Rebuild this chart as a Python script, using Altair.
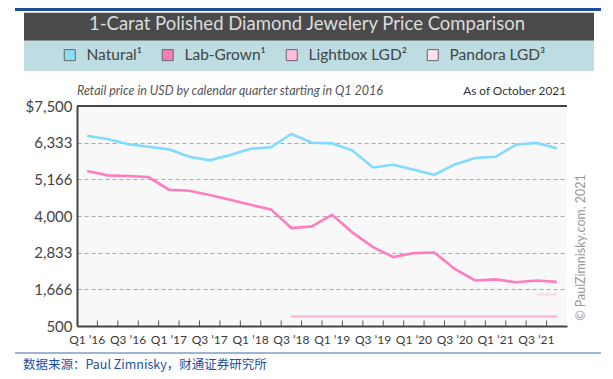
import altair as alt
import pandas as pd

quarters = ["Q1 ’16", "Q2 ’16", "Q3 ’16", "Q4 ’16",
            "Q1 ’17", "Q2 ’17", "Q3 ’17", "Q4 ’17",
            "Q1 ’18", "Q2 ’18", "Q3 ’18", "Q4 ’18",
            "Q1 ’19", "Q2 ’19", "Q3 ’19", "Q4 ’19",
            "Q1 ’20", "Q2 ’20", "Q3 ’20", "Q4 ’20",
            "Q1 ’21", "Q2 ’21", "Q3 ’21", "Q4 ’21"]
label_quarters = ["Q1 ’16", "Q3 ’16", "Q1 ’17", "Q3 ’17", "Q1 ’18", "Q3 ’18",
                  "Q1 ’19", "Q3 ’19", "Q1 ’20", "Q3 ’20", "Q1 ’21", "Q3 ’21"]

natural = [6550, 6450, 6280, 6205, 6120, 5885, 5770, 5940, 6140, 6185, 6610, 6333,
           6310, 6080, 5545, 5630, 5470, 5305, 5640, 5845, 5885, 6265, 6325, 6155]
lab_grown = [5430, 5294, 5272, 5240, 4836, 4805, 4670, 4517, 4357, 4210, 3616, 3670,
             4040, 3470, 3010, 2693, 2820, 2840, 2315, 1950, 1982, 1892, 1948, 1905]
lightbox_quarters = quarters[10:]
lightbox = [800, 800, 800, 800, 800, 800, 800, 800, 800, 800, 800, 800, 800, 800]
pandora_quarters = quarters[22:]
pandora = [1500, 1500]

series_names = ["Natural¹", "Lab-Grown¹", "Lightbox LGD²", "Pandora LGD³"]
series_colors = ["#80DBFF", "#FF7DBF", "#FFB6D9", "#FFDCEA"]
legend_fill = ["#8DDFF5", "#F77DB8", "#FFBEDC", "#FCE2EE"]

y_ticks = [500, 1666, 2833, 4000, 5166, 6333, 7500]

chart_title = "1-Carat Polished Diamond Jewelery Price Comparison"
top_title = "图 40：1 克拉培育钻石与天然钻石价格差异扩大至 75%"
subtitle = "Retail price in USD by calendar quarter starting in Q1 2016"
asof = "As of October 2021"
copyright_text = "© PaulZimnisky.com, 2021"
source = "数据来源：Paul Zimnisky，财通证券研究所"

rows = []
for q, v in zip(quarters, natural):
    rows.append({"quarter": q, "series": series_names[0], "value": v})
for q, v in zip(quarters, lab_grown):
    rows.append({"quarter": q, "series": series_names[1], "value": v})
for q, v in zip(lightbox_quarters, lightbox):
    rows.append({"quarter": q, "series": series_names[2], "value": v})
for q, v in zip(pandora_quarters, pandora):
    rows.append({"quarter": q, "series": series_names[3], "value": v})
df = pd.DataFrame(rows)

W, H = 490, 220
FONT = "Lato"

xscale = alt.Scale(type="band", domain=quarters, paddingInner=0, paddingOuter=0)
yscale = alt.Scale(domain=[500, 7500], nice=False, zero=False)

x_axis = alt.Axis(values=label_quarters, ticks=False, tickSize=0, labelPadding=8,
                  bandPosition=0.5,
                  labelFontSize=12, labelColor="#3a3a3a", labelFont=FONT, labelAngle=0,
                  domainColor="#444", domainWidth=2, grid=False, title=None)
y_axis = alt.Axis(values=y_ticks, ticks=False, tickSize=0, labelPadding=5,
                  labelOverlap=False,
                  labelFontSize=15, labelColor="#444", labelFont=FONT,
                  labelExpr="datum.value == 7500 ? '$7,500' : format(datum.value, ',')",
                  domainColor="#444", domainWidth=2, grid=True, gridColor="#aaaaaa",
                  gridDash=[4, 3], gridWidth=1, title=None)

# stroke scale listed in reverse order so its legend (hidden) is not merged with the fill legend
lines = alt.Chart(df).mark_line(strokeWidth=2.6).encode(
    x=alt.X("quarter:N", scale=xscale, axis=x_axis, sort=quarters, bandPosition=0.5),
    y=alt.Y("value:Q", scale=yscale, axis=y_axis),
    stroke=alt.Stroke("series:N",
                      scale=alt.Scale(domain=series_names[::-1], range=series_colors[::-1]),
                      legend=None),
    detail="series:N",
)

legend_layer = alt.Chart(df).mark_square(filled=True, opacity=0, size=1).encode(
    x=alt.X("quarter:N", scale=xscale, sort=quarters, axis=x_axis, bandPosition=0.5),
    y=alt.Y("value:Q", scale=yscale, axis=y_axis),
    fill=alt.Fill("series:N", scale=alt.Scale(domain=series_names, range=legend_fill),
                  legend=alt.Legend(orient="none", legendX=-15, legendY=-59,
                                    direction="horizontal", title=None,
                                    symbolType="square", symbolSize=121,
                                    symbolStrokeColor="#666", symbolStrokeWidth=1,
                                    symbolOpacity=1,
                                    labelFont=FONT, labelFontSize=15.5, labelColor="#444",
                                    labelOffset=9, columnPadding=18, padding=0)),
)

tick_df = pd.DataFrame({"quarter": quarters[1:]})
ticks = alt.Chart(tick_df).mark_rule(color="#555", strokeWidth=1).encode(
    x=alt.X("quarter:N", scale=xscale, sort=quarters, bandPosition=0, axis=x_axis),
    y=alt.value(H - 5.5),
    y2=alt.value(H),
)

one = pd.DataFrame({"k": [0]})

def rect(x, x2, y, y2, color):
    return alt.Chart(one).mark_rect(color=color).encode(
        x=alt.value(x), x2=alt.value(x2), y=alt.value(y), y2=alt.value(y2))

def text(t, x, y, size, color, align="left", font=FONT, style="normal",
         weight="normal", angle=0, baseline="alphabetic"):
    return alt.Chart(pd.DataFrame({"t": [t]})).mark_text(
        align=align, baseline=baseline, fontSize=size, color=color, font=font,
        fontStyle=style, fontWeight=weight, angle=angle).encode(
        text="t:N", x=alt.value(x), y=alt.value(y))

blue_band = rect(-62, 524, -110, -95, "#1B4F9C")
blue_text = text(top_title, -52, -101, 18, "#ffffff", font="Noto Sans CJK SC", weight="bold")
dark_band = rect(-53, 517, -93.3, -65.3, "#4a4a4a")
legend_band = rect(-53, 517, -65.3, -35, "#BDDDE3")
title_text = text(chart_title, 230, -76.5, 18.5, "#dcdcdc", align="center")
sub_text = text(subtitle, 0, -11, 12.5, "#555", style="italic")
asof_text = text(asof, 489, -11, 11.8, "#333", align="right")
top_rule = alt.Chart(one).mark_rule(color="#444", strokeWidth=2).encode(
    x=alt.value(0), x2=alt.value(W), y=alt.value(0))
copy_text = text(copyright_text, 504, 141.5, 12.5, "#999", align="center",
                 angle=270, baseline="middle")
src_rule = alt.Chart(one).mark_rule(color="#3C6AA8", strokeWidth=1).encode(
    x=alt.value(-62), x2=alt.value(524), y=alt.value(247))
src_text = text(source, -54, 263, 12.5, "#1B4F9C", font="Noto Sans CJK SC")

chart = alt.layer(
    blue_band, blue_text, dark_band, legend_band, title_text, sub_text, asof_text,
    ticks, lines, legend_layer, top_rule, copy_text, src_rule, src_text
).properties(
    width=W, height=H,
    padding={"left": 69, "top": 98, "right": 38, "bottom": 53},
    autosize=alt.AutoSizeParams(type="none"),
    background="#ffffff",
).configure_view(stroke=None, fill="#f8f8f8")

chart.save("out.html", embed_options={"renderer": "svg", "actions": False})
